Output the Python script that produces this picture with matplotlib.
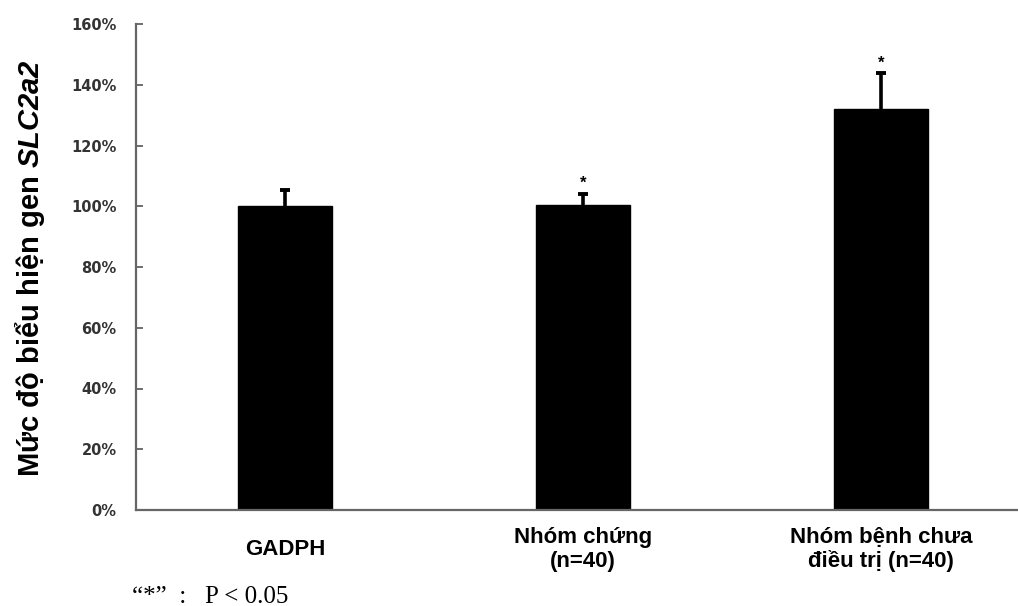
import matplotlib
matplotlib.use("Agg")
import matplotlib.pyplot as plt
from matplotlib.ticker import FuncFormatter

# Data
categories = ["GADPH", "Nhóm chứng\n(n=40)", "Nhóm bệnh chưa\nđiều trị (n=40)"]
expression = [100, 100.4, 132]      # % relative expression
errors_up = [5.3, 3.7, 11.8]        # upper error (%)
significant = [False, True, True]
y_ticks = [0, 20, 40, 60, 80, 100, 120, 140, 160]

plt.rcParams["mathtext.fontset"] = "custom"
plt.rcParams["mathtext.bfit"] = "Liberation Sans:italic:bold"
plt.rcParams["mathtext.rm"] = "Liberation Sans:bold"

fig = plt.figure(figsize=(10.18, 6.06), dpi=100)
ax = fig.add_axes([136 / 1018, 1 - 510 / 606, 1 - 136 / 1018, (510 - 24) / 606])

x = list(range(len(categories)))
bar_w = 0.315
cap_half = 0.018
ax.bar(x, expression, width=bar_w, color="black", edgecolor="black", zorder=2)

# upper-only error bars: stem from bar top to the cap
tops = [v + e for v, e in zip(expression, errors_up)]
ax.vlines(x, expression, tops, colors="black", linewidth=2.6, zorder=3)
ax.hlines(tops, [xi - cap_half for xi in x], [xi + cap_half for xi in x],
          colors="black", linewidth=2.8, zorder=3)

for xi, t, s in zip(x, tops, significant):
    if s:
        ax.annotate("*", (xi, t), xytext=(0, 2), textcoords="offset points",
                    ha="center", va="bottom", fontsize=12, fontweight="bold",
                    family="Liberation Sans")

ax.set_xlim(-0.5, 2.46)
ax.set_ylim(0, 160)
ax.set_yticks(y_ticks)
ax.yaxis.set_major_formatter(FuncFormatter(lambda v, p: f"{int(v)}%"))
for lbl in ax.get_yticklabels():
    lbl.set_fontweight("bold")
    lbl.set_fontsize(10.5)
    lbl.set_color("#333333")
    lbl.set_family("DejaVu Sans")

ax.set_xticks(x)
ax.set_xticklabels(categories, fontsize=16, fontweight="bold",
                   family=["Liberation Sans Narrow", "Liberation Sans"],
                   linespacing=1.15, va="center")
ax.tick_params(axis="x", length=0, pad=28.5)
ax.tick_params(axis="y", direction="in", length=5, width=1.2, color="#555555", pad=14)

for side in ("top", "right"):
    ax.spines[side].set_visible(False)
for side in ("left", "bottom"):
    ax.spines[side].set_color("#666666")
    ax.spines[side].set_linewidth(1.6)

fig.text(30 / 1018, 1 - 268 / 606, r"Mức độ biểu hiện gen $\mathbfit{SLC2a2}$",
         rotation=90, ha="center", va="center", fontsize=21, fontweight="bold",
         family="Liberation Sans")

fig.text(132 / 1018, 1 - 597 / 606, "“*”  :   P < 0.05", ha="left", va="center",
         fontsize=18, family="Liberation Serif")

fig.savefig("out.png", dpi=100)
